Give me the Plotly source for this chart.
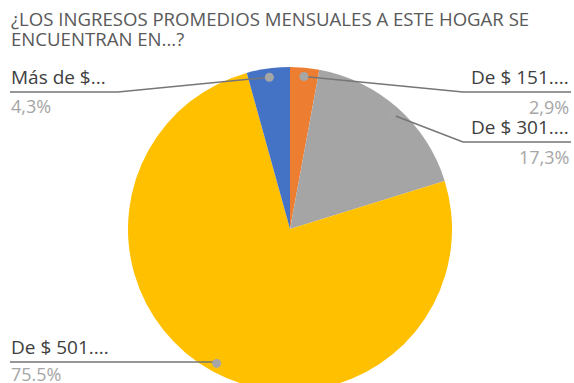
import math
import plotly.graph_objects as go

# Monthly household income brackets (clockwise from 12 o'clock)
categories = ["De $ 151....", "De $ 301....", "De $ 501....", "Más de $..."]
values = [2.9, 17.3, 75.5, 4.3]
value_labels = ["2,9%", "17,3%", "75.5%", "4,3%"]
colors = ["#ED7D31", "#A5A5A5", "#FFC000", "#4472C4"]

title_lines = ["¿LOS INGRESOS PROMEDIOS MENSUALES A ESTE HOGAR SE", "ENCUENTRAN EN...?"]

W, H = 574, 392
CX, CY, R = 290, 229, 162          # pie centre and radius in pixels (from top-left)
DOT_R = 0.945 * R                   # where leader lines meet the slices
FONT = "Open Sans"

# label placement: side, text centre y, rule y, percentage centre y, elbow x
label_layout = [
    dict(side="right", ty=77, ly=92, py=107, elbow=463),
    dict(side="right", ty=127, ly=142, py=157, elbow=463),
    dict(side="left", ty=347, ly=362, py=374, elbow=None),
    dict(side="left", ty=77, ly=92, py=106, elbow=118),
]


def px(x):
    return x / W


def py(y):
    return (H - y) / H


fig = go.Figure(go.Pie(
    values=values,
    labels=categories,
    marker=dict(colors=colors, line=dict(width=0)),
    sort=False,
    direction="clockwise",
    rotation=0,
    textinfo="none",
    hoverinfo="label+percent",
    showlegend=False,
    domain=dict(x=[px(CX - R), px(CX + R)], y=[py(CY + R), py(CY - R)]),
))

shapes = []
annotations = []
for i, line in enumerate(title_lines):
    annotations.append(dict(
        text=line, x=px(9), y=py(18 + 20 * i), xref="paper", yref="paper",
        xanchor="left", yanchor="middle", align="left", showarrow=False,
        font=dict(family=FONT, size=18.6, color="#595959"),
    ))

total = sum(values)
cum = 0.0
for name, v, pct, lay in zip(categories, values, value_labels, label_layout):
    mid = (cum + v / 2) / total * 2 * math.pi
    cum += v
    dx = CX + DOT_R * math.sin(mid)
    dy = CY - DOT_R * math.cos(mid)

    if lay["side"] == "right":
        x_end, x_text, anchor = 571, 571, "right"
    else:
        x_end, x_text, anchor = 10, 9, "left"
    elbow = lay["elbow"] if lay["elbow"] is not None else dx
    path = f"M {px(x_end)} {py(lay['ly'])} L {px(elbow)} {py(lay['ly'])} L {px(dx)} {py(dy)}"
    shapes.append(dict(type="path", path=path, xref="paper", yref="paper",
                       line=dict(color="#767676", width=1.5)))
    shapes.append(dict(type="circle", xref="paper", yref="paper",
                       x0=px(dx - 4.5), x1=px(dx + 4.5), y0=py(dy + 4.5), y1=py(dy - 4.5),
                       fillcolor="#A6A6A6", line=dict(width=0)))
    annotations.append(dict(
        text=name, x=px(x_text), y=py(lay["ty"]), xref="paper", yref="paper",
        xanchor=anchor, yanchor="middle", showarrow=False,
        font=dict(family=FONT, size=19, color="#404040"),
    ))
    annotations.append(dict(
        text=pct, x=px(x_text), y=py(lay["py"]), xref="paper", yref="paper",
        xanchor=anchor, yanchor="middle", showarrow=False,
        font=dict(family=FONT, size=18, color="#A6A6A6"),
    ))

fig.update_layout(
    width=W, height=H,
    margin=dict(l=0, r=0, t=0, b=0),
    paper_bgcolor="white",
    plot_bgcolor="white",
    shapes=shapes,
    annotations=annotations,
)

fig.write_html(
    "out.html",
    post_script="document.body.style.margin='0';document.body.style.overflow='hidden';"
                "document.documentElement.style.overflow='hidden';",
)
